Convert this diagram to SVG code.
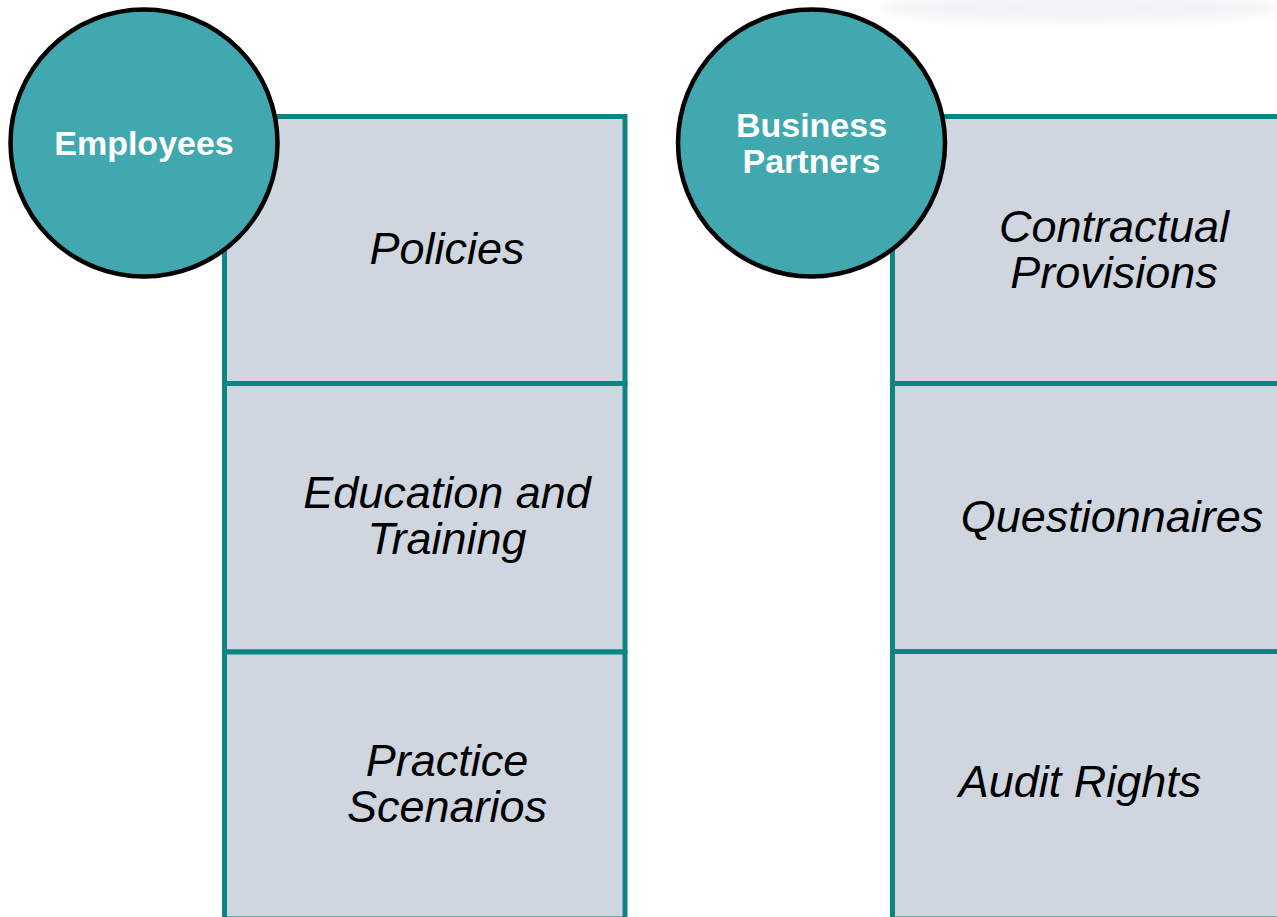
<svg xmlns="http://www.w3.org/2000/svg" width="1277" height="917" viewBox="0 0 1277 917">
<defs>
<style>
.cell{fill:#CFD6E0;stroke:#0E8583;stroke-width:5}
.hub{fill:#40A8AE;stroke:#000;stroke-width:4.5}
.lbl{font-family:"Liberation Sans",Arial,sans-serif;font-style:italic;font-size:45px;fill:#000;text-anchor:middle}
.hubt{font-family:"Liberation Sans",Arial,sans-serif;font-weight:bold;font-size:34px;fill:#fff;text-anchor:middle}
</style>
<filter id="blur" x="-20%" y="-200%" width="140%" height="500%"><feGaussianBlur stdDeviation="6"/></filter>
</defs>
<rect width="1277" height="917" fill="#fff"/>
<ellipse cx="1080" cy="8" rx="200" ry="14" fill="#E6ECEC" opacity="0.6" filter="url(#blur)"/>
<g id="employees-column">
<g id="policies"><rect class="cell" x="224.5" y="116.5" width="400.5" height="267"/><text class="lbl" x="447" y="264">Policies</text></g>
<g id="education"><rect class="cell" x="224.5" y="383.5" width="400.5" height="268.5"/><text class="lbl" x="447" y="508">Education and</text><text class="lbl" x="447" y="554">Training</text></g>
<g id="practice"><rect class="cell" x="224.5" y="652" width="400.5" height="267"/><text class="lbl" x="447" y="776">Practice</text><text class="lbl" x="447" y="822">Scenarios</text></g>
</g>
<g id="partners-column">
<g id="contractual"><rect class="cell" x="892.5" y="116.5" width="420" height="267"/><text class="lbl" x="1114" y="242">Contractual</text><text class="lbl" x="1114" y="288">Provisions</text></g>
<g id="questionnaires"><rect class="cell" x="892.5" y="383.5" width="420" height="268"/><text class="lbl" x="1112" y="532">Questionnaires</text></g>
<g id="audit"><rect class="cell" x="892.5" y="651.5" width="420" height="267.5"/><text class="lbl" x="1080" y="797">Audit Rights</text></g>
</g>
<g id="connectors"></g>
<g id="employees"><circle class="hub" cx="144" cy="143" r="133.5"/><text class="hubt" x="144" y="155">Employees</text></g>
<g id="business-partners"><circle class="hub" cx="811.5" cy="143" r="133.5"/><text class="hubt" x="811.5" y="137">Business</text><text class="hubt" x="811.5" y="173">Partners</text></g>
</svg>
